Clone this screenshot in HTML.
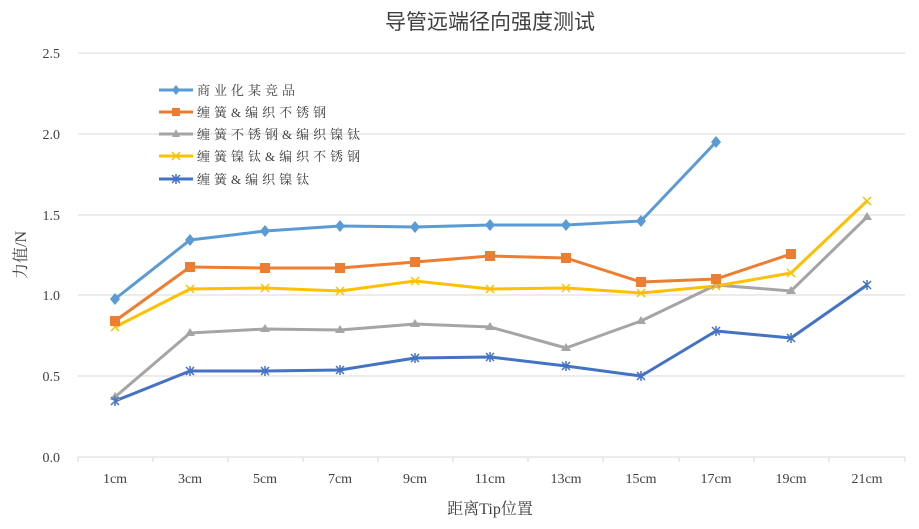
<!DOCTYPE html>
<html><head><meta charset="utf-8"><style>
body{margin:0;background:#fff}
svg text{font-family:"Liberation Serif","Noto Serif CJK SC",serif;fill:#404040}
</style></head><body>
<svg width="919" height="524" xmlns="http://www.w3.org/2000/svg">
<text x="490" y="29" font-size="21" text-anchor="middle" style="font-family:'Liberation Sans','Noto Sans CJK SC',sans-serif">导管远端径向强度测试</text>
<g stroke="#d9d9d9">
<line x1="78" y1="53" x2="905" y2="53"/><line x1="78" y1="134" x2="905" y2="134"/><line x1="78" y1="215" x2="905" y2="215"/><line x1="78" y1="295" x2="905" y2="295"/><line x1="78" y1="376" x2="905" y2="376"/>
</g>
<g font-size="14" text-anchor="end">
<text x="60" y="462">0.0</text><text x="60" y="381">0.5</text><text x="60" y="300">1.0</text>
<text x="60" y="220">1.5</text><text x="60" y="139">2.0</text><text x="60" y="58">2.5</text>
</g>
<text transform="translate(26,255) rotate(-90)" font-size="16" text-anchor="middle">力值/N</text>
<line x1="78" y1="457" x2="905" y2="457" stroke="#d9d9d9"/>
<g stroke="#d9d9d9">
<line x1="78" y1="457" x2="78" y2="462"/><line x1="153" y1="457" x2="153" y2="462"/><line x1="228" y1="457" x2="228" y2="462"/><line x1="303" y1="457" x2="303" y2="462"/><line x1="378" y1="457" x2="378" y2="462"/><line x1="453" y1="457" x2="453" y2="462"/><line x1="528" y1="457" x2="528" y2="462"/><line x1="603" y1="457" x2="603" y2="462"/><line x1="679" y1="457" x2="679" y2="462"/><line x1="754" y1="457" x2="754" y2="462"/><line x1="829" y1="457" x2="829" y2="462"/><line x1="905" y1="457" x2="905" y2="462"/>
</g>
<g font-size="14" text-anchor="middle">
<text x="115" y="483">1cm</text><text x="190" y="483">3cm</text><text x="265" y="483">5cm</text><text x="340" y="483">7cm</text><text x="415" y="483">9cm</text><text x="490" y="483">11cm</text><text x="566" y="483">13cm</text><text x="641" y="483">15cm</text><text x="716" y="483">17cm</text><text x="791" y="483">19cm</text><text x="867" y="483">21cm</text>
</g>
<text x="490" y="514" font-size="16" text-anchor="middle">距离Tip位置</text>
<g fill="none" stroke-width="3" stroke-linejoin="round">
<polyline stroke="#A5A5A5" points="115,397 190,333 265,329 340,330 415,324 490,327 566,348 641,321 716,285 791,291 867,217"/>
<polyline stroke="#FFC000" points="115,327 190,289 265,288 340,291 415,281 490,289 566,288 641,293 716,286 791,273 867,201"/>
<polyline stroke="#4472C4" points="115,401 190,371 265,371 340,370 415,358 490,357 566,366 641,376 716,331 791,338 867,285"/>
<polyline stroke="#ED7D31" points="115,321 190,267 265,268 340,268 415,262 490,256 566,258 641,282 716,279 791,254"/>
<polyline stroke="#5B9BD5" points="115,299 190,240 265,231 340,226 415,227 490,225 566,225 641,221 716,142"/>
</g>
<g fill="#A5A5A5"><path d="M115,392l5,8h-10z M190,328l5,8h-10z M265,324l5,8h-10z M340,325l5,8h-10z M415,319l5,8h-10z M490,322l5,8h-10z M566,343l5,8h-10z M641,316l5,8h-10z M716,280l5,8h-10z M791,286l5,8h-10z M867,212l5,8h-10z"/></g>
<g stroke="#FFC000" stroke-width="1.5"><path d="M111,323l8,8M119,323l-8,8 M186,285l8,8M194,285l-8,8 M261,284l8,8M269,284l-8,8 M336,287l8,8M344,287l-8,8 M411,277l8,8M419,277l-8,8 M486,285l8,8M494,285l-8,8 M562,284l8,8M570,284l-8,8 M637,289l8,8M645,289l-8,8 M712,282l8,8M720,282l-8,8 M787,269l8,8M795,269l-8,8 M863,197l8,8M871,197l-8,8"/></g>
<g stroke="#4472C4" stroke-width="1.5"><path d="M111,397l8,8M119,397l-8,8M115,396v10 M186,367l8,8M194,367l-8,8M190,366v10 M261,367l8,8M269,367l-8,8M265,366v10 M336,366l8,8M344,366l-8,8M340,365v10 M411,354l8,8M419,354l-8,8M415,353v10 M486,353l8,8M494,353l-8,8M490,352v10 M562,362l8,8M570,362l-8,8M566,361v10 M637,372l8,8M645,372l-8,8M641,371v10 M712,327l8,8M720,327l-8,8M716,326v10 M787,334l8,8M795,334l-8,8M791,333v10 M863,281l8,8M871,281l-8,8M867,280v10"/></g>
<g fill="#ED7D31"><rect x="110" y="316" width="10" height="10"/><rect x="185" y="262" width="10" height="10"/><rect x="260" y="263" width="10" height="10"/><rect x="335" y="263" width="10" height="10"/><rect x="410" y="257" width="10" height="10"/><rect x="485" y="251" width="10" height="10"/><rect x="561" y="253" width="10" height="10"/><rect x="636" y="277" width="10" height="10"/><rect x="711" y="274" width="10" height="10"/><rect x="786" y="249" width="10" height="10"/></g>
<g fill="#5B9BD5"><path d="M115,293l5,6-5,6-5-6z M190,234l5,6-5,6-5-6z M265,225l5,6-5,6-5-6z M340,220l5,6-5,6-5-6z M415,221l5,6-5,6-5-6z M490,219l5,6-5,6-5-6z M566,219l5,6-5,6-5-6z M641,215l5,6-5,6-5-6z M716,136l5,6-5,6-5-6z"/></g>
<g stroke-width="3">
<line x1="159" y1="90" x2="193" y2="90" stroke="#5B9BD5"/>
<line x1="159" y1="112" x2="193" y2="112" stroke="#ED7D31"/>
<line x1="159" y1="134" x2="193" y2="134" stroke="#A5A5A5"/>
<line x1="159" y1="156" x2="193" y2="156" stroke="#FFC000"/>
<line x1="159" y1="179" x2="193" y2="179" stroke="#4472C4"/>
</g>
<path d="M176,85l4,5-4,5-4-5z" fill="#5B9BD5"/>
<rect x="172" y="108" width="8" height="8" fill="#ED7D31"/>
<path d="M176,129l4,8h-8z" fill="#A5A5A5"/>
<path d="M172,152l8,8M180,152l-8,8" stroke="#FFC000" stroke-width="1.5"/>
<path d="M172,175l8,8M180,175l-8,8M176,174v10" stroke="#4472C4" stroke-width="1.5"/>
<g font-size="13" letter-spacing="4">
<text x="197" y="95">商业化某竞品</text>
<text x="197" y="117">缠簧&amp;编织不锈钢</text>
<text x="197" y="139">缠簧不锈钢&amp;编织镍钛</text>
<text x="197" y="161">缠簧镍钛&amp;编织不锈钢</text>
<text x="197" y="184">缠簧&amp;编织镍钛</text>
</g>
</svg>
</body></html>
